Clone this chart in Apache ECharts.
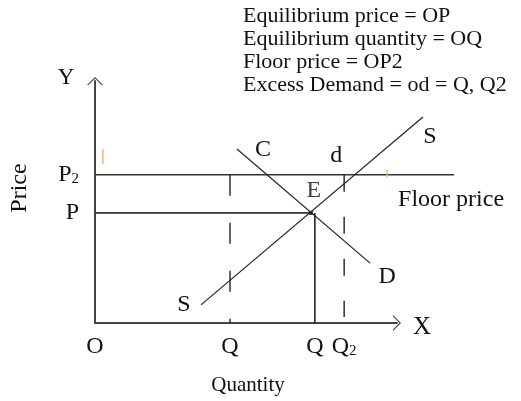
<!DOCTYPE html>
<html>
<head>
<meta charset="utf-8">
<script src="https://cdn.jsdelivr.net/npm/echarts@6/dist/echarts.min.js"></script>
<style>
html, body { margin: 0; padding: 0; background: #fff; }
#chart { width: 521px; height: 401px; }
</style>
</head>
<body>
<div id="chart"></div>
<script>
// price and quantity levels (axis units)
const floorPrice = 4.9;
const eqPrice = 3.64;
const qValues = [0, 4.47, 7.28, 8.25];
const qLabels = ['O', 'Q', 'Q', 'Q{s|2}'];
const pValues = [3.64, 4.9];
const pLabels = ['P', 'P{s|2}'];
// curves
const supply = [[3.51, 0.60], [10.86, 6.81]];
const demand = [[4.70, 5.75], [9.11, 1.98]];
const equilibrium = [7.15, 3.64];
const floorEnd = 11.89;
const q2Bottom = 0.2;
// small orange marks on the scan
const strayTicks = [[[0.26, 5.26], [0.26, 5.75]], [[9.67, 4.83], [9.67, 5.06]]];
const notes = ['Equilibrium price = OP', 'Equilibrium quantity = OQ', 'Floor price = OP2', 'Excess Demand = od = Q, Q2'];

const serif = 'Liberation Serif';
const chevron = 'path://M0,8 L8,0 L16,8 L14.4,8 L8,1.6 L1.6,8 Z';
// drawn axes run 0..10 over 302px; the plotting grid uses the same scale up to 12
const pxPerQ = 30.2;

function pick(values, labels, v) {
    let best = 0;
    values.forEach(function (x, i) { if (Math.abs(x - v) < Math.abs(values[best] - v)) best = i; });
    return labels[best];
}

function txt(s, extra) {
    return Object.assign({
        show: true, formatter: s, position: 'inside',
        fontFamily: serif, fontSize: 24, color: '#111'
    }, extra || {});
}

const chart = echarts.init(document.getElementById('chart'));

const lineBase = {
    type: 'line', symbol: 'circle', symbolSize: 0, clip: false, silent: true, animation: false,
    xAxisIndex: 1, yAxisIndex: 1
};

const series = [
    Object.assign({}, lineBase, {
        name: 'floor',
        data: [[0, floorPrice], { value: [floorEnd, floorPrice], label: txt('Floor price', { align: 'left', offset: [-56, 25] }) }],
        lineStyle: { color: '#333', width: 1.6 }
    }),
    Object.assign({}, lineBase, {
        name: 'eqPrice',
        data: [[0, eqPrice], equilibrium],
        lineStyle: { color: '#333', width: 1.6 }
    }),
    Object.assign({}, lineBase, {
        name: 'eqQuantity',
        data: [[qValues[2], eqPrice], [qValues[2], 0]],
        lineStyle: { color: '#222', width: 1.6 }
    }),
    Object.assign({}, lineBase, {
        name: 'q1',
        data: [[qValues[1], floorPrice], [qValues[1], 0]],
        lineStyle: { color: '#222', width: 1.4, type: [21, 27] }
    }),
    Object.assign({}, lineBase, {
        name: 'q2',
        data: [{ value: [qValues[3], floorPrice], label: txt('d', { offset: [-8, -19] }) }, [qValues[3], q2Bottom]],
        lineStyle: { color: '#222', width: 1.4, type: [17, 25] }
    }),
    Object.assign({}, lineBase, {
        name: 'supply',
        data: [
            { value: supply[0], label: txt('S', { offset: [-17, 0] }) },
            { value: supply[1], label: txt('S', { offset: [7, 20] }) }
        ],
        lineStyle: { color: '#222', width: 1.2 }
    }),
    Object.assign({}, lineBase, {
        name: 'demand',
        data: [
            { value: demand[0], label: txt('C', { offset: [26, 1] }) },
            { value: demand[1], label: txt('D', { offset: [17, 14] }) }
        ],
        lineStyle: { color: '#222', width: 1.2 }
    }),
    {
        type: 'scatter', name: 'E', silent: true, animation: false,
        xAxisIndex: 1, yAxisIndex: 1,
        symbol: 'rect', symbolSize: 4,
        itemStyle: { color: '#000' },
        data: [{ value: equilibrium, label: txt('E', { offset: [3, -22] }) }]
    }
];
strayTicks.forEach(function (seg) {
    series.push(Object.assign({}, lineBase, {
        name: 'stray', data: seg, lineStyle: { color: '#f6b06e', width: 1.5 }
    }));
});

const axisCommon = {
    type: 'value',
    splitLine: { show: false },
    axisTick: { show: false },
    axisLine: {
        show: true, symbol: ['none', chevron], symbolSize: [16, 8],
        lineStyle: { color: '#444', width: 2 }
    }
};
const hiddenAxis = {
    type: 'value', show: false,
    splitLine: { show: false }, axisTick: { show: false }, axisLine: { show: false }, axisLabel: { show: false }
};
const labelRich = { s: { fontFamily: serif, fontSize: 15, color: '#111', verticalAlign: 'bottom', padding: [9, 0, 0, 0] } };

const notesGraphic = notes.map(function (s, i) {
    return {
        type: 'text', left: 243, top: 5 + i * 23,
        style: { text: s, font: '22px "' + serif + '"', fill: '#111' }
    };
});

chart.setOption({
    backgroundColor: '#fff',
    animation: false,
    grid: [
        { left: 95, top: 81, width: 10 * pxPerQ, height: 242, outerBoundsMode: 'none' },
        { left: 95, top: 81, width: 12 * pxPerQ, height: 242, outerBoundsMode: 'none' }
    ],
    xAxis: [
        Object.assign({}, axisCommon, {
            gridIndex: 0, min: 0, max: 10,
            axisLabel: {
                customValues: qValues, margin: 12,
                formatter: function (v) { return pick(qValues, qLabels, v); },
                fontFamily: serif, fontSize: 24, color: '#111', rich: labelRich
            }
        }),
        Object.assign({}, hiddenAxis, { gridIndex: 1, min: 0, max: 12 })
    ],
    yAxis: [
        Object.assign({}, axisCommon, {
            gridIndex: 0, min: 0, max: 8,
            axisLabel: {
                customValues: pValues, margin: 16,
                formatter: function (v) { return pick(pValues, pLabels, v); },
                fontFamily: serif, fontSize: 24, color: '#111', rich: labelRich
            }
        }),
        Object.assign({}, hiddenAxis, { gridIndex: 1, min: 0, max: 8 })
    ],
    graphic: notesGraphic.concat([
        { type: 'text', x: 66, y: 78, style: { text: 'Y', font: '23px "' + serif + '"', fill: '#111', align: 'center', verticalAlign: 'middle' } },
        { type: 'text', x: 422, y: 327, style: { text: 'X', font: '25px "' + serif + '"', fill: '#111', align: 'center', verticalAlign: 'middle' } },
        { type: 'text', x: 20, y: 188, rotation: Math.PI / 2, style: { text: 'Price', font: '24px "' + serif + '"', fill: '#111', align: 'center', verticalAlign: 'middle' } },
        { type: 'text', x: 248, y: 385, style: { text: 'Quantity', font: '21px "' + serif + '"', fill: '#111', align: 'center', verticalAlign: 'middle' } }
    ]),
    series: series
});
window.addEventListener('resize', function () { chart.resize(); });
</script>
</body>
</html>
